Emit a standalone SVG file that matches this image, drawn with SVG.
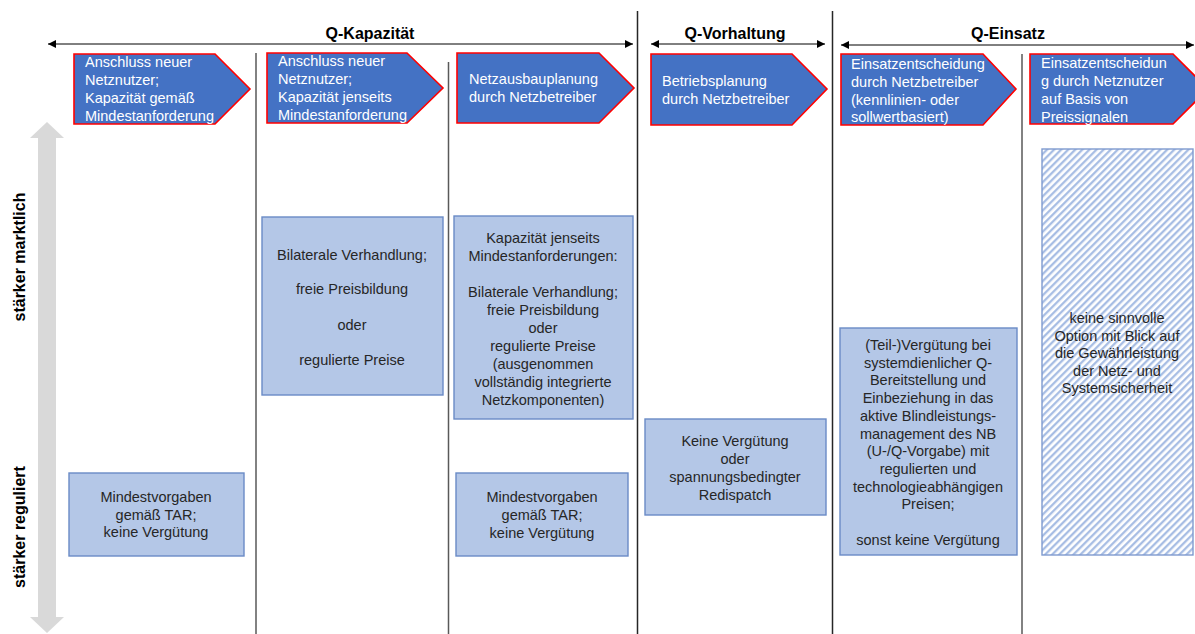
<svg xmlns="http://www.w3.org/2000/svg" width="1195" height="634" viewBox="0 0 1195 634">
<style>
.hdr{font-family:"Liberation Sans",Arial,sans-serif;font-size:16px;font-weight:bold;fill:#000;text-anchor:middle}
.side{font-family:"Liberation Sans",Arial,sans-serif;font-size:16px;font-weight:bold;fill:#000;text-anchor:middle}
.pent{fill:#4472C4;stroke:#FF0000;stroke-width:1.6}
.pt{font-family:"Liberation Sans",Arial,sans-serif;font-size:14.5px;fill:#fff}
.box{fill:#B4C7E7;stroke:#6A8BC6;stroke-width:1.4}
.bt{font-family:"Liberation Sans",Arial,sans-serif;font-size:14.5px;fill:#262626;text-anchor:middle}
.vl{stroke:#595959;stroke-width:1.5;fill:none}
.vd{stroke:#262626;stroke-width:1.5;fill:none}
.ar{stroke:#000;stroke-width:1;fill:none;marker-start:url(#ah);marker-end:url(#ah)}
</style>
<defs>
<marker id="ah" viewBox="0 0 10 10" refX="10" refY="5" markerWidth="10" markerHeight="8" markerUnits="userSpaceOnUse" orient="auto-start-reverse">
<path d="M0,0 L10,5 L0,10 Z" fill="#000"/>
</marker>
<pattern id="hatch" patternUnits="userSpaceOnUse" width="5" height="5" patternTransform="rotate(45)">
<rect width="5" height="5" fill="#fff"/>
<line x1="1.2" y1="0" x2="1.2" y2="5" stroke="#A3BAE3" stroke-width="2.2"/>
</pattern>
</defs>
<rect width="1195" height="634" fill="#fff"/>

<g id="connectors">
<line class="ar" x1="48" y1="44" x2="633" y2="44"/>
<line class="ar" x1="651" y1="44" x2="825" y2="44"/>
<line class="ar" x1="841" y1="45" x2="1194" y2="45"/>
<line class="vd" x1="637.5" y1="11" x2="637.5" y2="634"/>
<line class="vd" x1="832.5" y1="11" x2="832.5" y2="634"/>
<line class="vl" x1="256" y1="53" x2="256" y2="634"/>
<line class="vl" x1="448.5" y1="62" x2="448.5" y2="634"/>
<line class="vl" x1="1022" y1="54" x2="1022" y2="634"/>
<path d="M47,122 L64,138 L56,138 L56,617 L64,617 L47,633 L30,617 L38,617 L38,138 L30,138 Z" fill="#D9D9D9"/>
</g>

<g id="headers">
<text class="hdr" x="370" y="39">Q-Kapazität</text>
<text class="hdr" x="735" y="39">Q-Vorhaltung</text>
<text class="hdr" x="1008" y="39">Q-Einsatz</text>
<text class="side" transform="translate(25,257) rotate(-90)">stärker marktlich</text>
<text class="side" transform="translate(25,527) rotate(-90)">stärker reguliert</text>
</g>

<g id="p1">
<path class="pent" d="M74,54 L215,54 L250,89 L215,124 L74,124 Z"/>
<text class="pt" x="85" y="67">Anschluss neuer<tspan x="85" y="85">Netznutzer;</tspan><tspan x="85" y="103">Kapazität gemäß</tspan><tspan x="85" y="121">Mindestanforderung</tspan></text>
</g>
<g id="p2">
<path class="pent" d="M267,53 L407,53 L443,88 L407,123 L267,123 Z"/>
<text class="pt" x="278" y="66">Anschluss neuer<tspan x="278" y="84">Netznutzer;</tspan><tspan x="278" y="102">Kapazität jenseits</tspan><tspan x="278" y="120">Mindestanforderung</tspan></text>
</g>
<g id="p3">
<path class="pent" d="M457,53 L599,53 L634,88 L599,123 L457,123 Z"/>
<text class="pt" x="469" y="84">Netzausbauplanung<tspan x="469" y="102">durch Netzbetreiber</tspan></text>
</g>
<g id="p4">
<path class="pent" d="M651,54 L792,54 L827,89 L792,125 L651,125 Z"/>
<text class="pt" x="662" y="86">Betriebsplanung<tspan x="662" y="104">durch Netzbetreiber</tspan></text>
</g>
<g id="p5">
<path class="pent" d="M841,54 L983,54 L1016,89 L983,125 L841,125 Z"/>
<text class="pt" x="851" y="69">Einsatzentscheidung<tspan x="851" y="87">durch Netzbetreiber</tspan><tspan x="851" y="105">(kennlinien-  oder</tspan><tspan x="851" y="122">sollwertbasiert)</tspan></text>
</g>
<g id="p6">
<path class="pent" d="M1030,54 L1173,54 L1208,89 L1173,124 L1030,124 Z"/>
<text class="pt" x="1041" y="68">Einsatzentscheidun<tspan x="1041" y="86">g durch Netznutzer</tspan><tspan x="1041" y="104">auf Basis von</tspan><tspan x="1041" y="122">Preissignalen</tspan></text>
</g>

<g id="b1">
<rect class="box" x="69" y="473" width="175" height="83"/>
<text class="bt" x="156" y="502">Mindestvorgaben<tspan x="156" y="519.5">gemäß TAR;</tspan><tspan x="156" y="537">keine Vergütung</tspan></text>
</g>
<g id="b2">
<rect class="box" x="262" y="217" width="181" height="178"/>
<text class="bt" x="352" y="260">Bilaterale Verhandlung;<tspan x="352" y="294">freie Preisbildung</tspan><tspan x="352" y="330">oder</tspan><tspan x="352" y="365">regulierte Preise</tspan></text>
</g>
<g id="b3">
<rect class="box" x="454" y="216" width="179" height="203"/>
<text class="bt" x="543" y="243">Kapazität jenseits<tspan x="543" y="261">Mindestanforderungen:</tspan><tspan x="543" y="297">Bilaterale Verhandlung;</tspan><tspan x="543" y="315">freie Preisbildung</tspan><tspan x="543" y="333">oder</tspan><tspan x="543" y="351">regulierte Preise</tspan><tspan x="543" y="369">(ausgenommen</tspan><tspan x="543" y="387">vollständig  integrierte</tspan><tspan x="543" y="405">Netzkomponenten)</tspan></text>
</g>
<g id="b4">
<rect class="box" x="456" y="473" width="172" height="83"/>
<text class="bt" x="542" y="502">Mindestvorgaben<tspan x="542" y="520">gemäß TAR;</tspan><tspan x="542" y="538">keine Vergütung</tspan></text>
</g>
<g id="b5">
<rect class="box" x="645" y="419" width="181" height="96"/>
<text class="bt" x="735" y="446">Keine Vergütung<tspan x="735" y="464">oder</tspan><tspan x="735" y="482">spannungsbedingter</tspan><tspan x="735" y="500">Redispatch</tspan></text>
</g>
<g id="b6">
<rect class="box" x="840" y="328" width="177" height="227"/>
<text class="bt" x="928" y="350">(Teil-)Vergütung bei<tspan x="928" y="367.7">systemdienlicher Q-</tspan><tspan x="928" y="385.4">Bereitstellung  und</tspan><tspan x="928" y="403.1">Einbeziehung  in das</tspan><tspan x="928" y="420.8">aktive Blindleistungs-</tspan><tspan x="928" y="438.5">management  des NB</tspan><tspan x="928" y="456.2">(U-/Q-Vorgabe) mit</tspan><tspan x="928" y="473.9">regulierten  und</tspan><tspan x="928" y="491.6">technologieabhängigen</tspan><tspan x="928" y="509.3">Preisen;</tspan><tspan x="928" y="545">sonst keine Vergütung</tspan></text>
</g>
<g id="b7">
<rect x="1042" y="149" width="151" height="406" fill="url(#hatch)" stroke="#7F9BCF" stroke-width="1.4"/>
<text class="bt" x="1117" y="323">keine sinnvolle<tspan x="1117" y="340.5">Option mit Blick auf</tspan><tspan x="1117" y="358">die Gewährleistung</tspan><tspan x="1117" y="375.5">der Netz- und</tspan><tspan x="1117" y="393">Systemsicherheit</tspan></text>
</g>
</svg>
